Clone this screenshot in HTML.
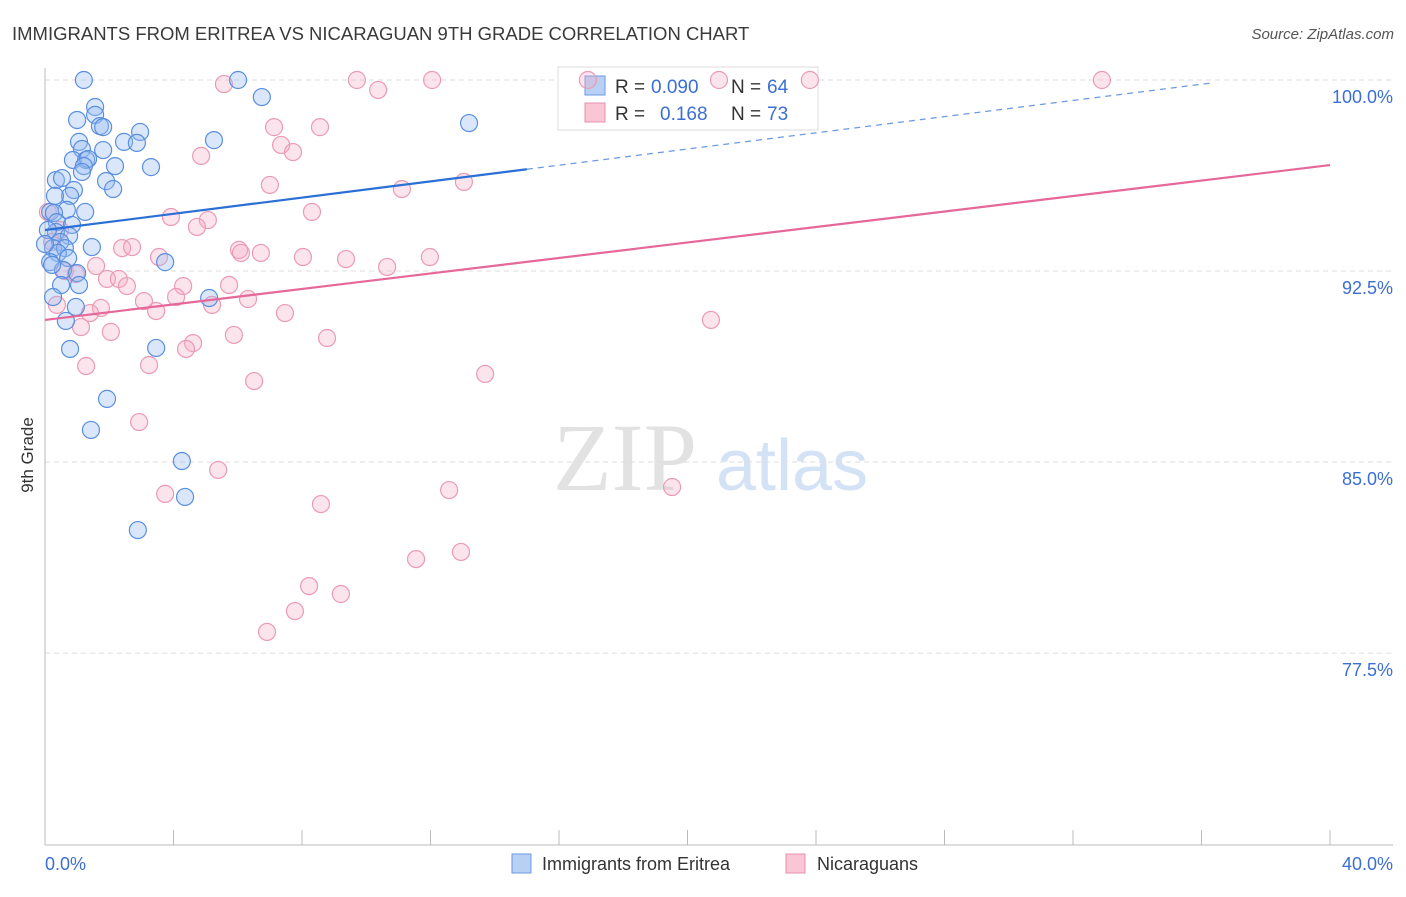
<!DOCTYPE html>
<html><head><meta charset="utf-8"><style>
body{margin:0;background:#fff;font-family:"Liberation Sans",sans-serif;}
svg text{font-family:"Liberation Sans",sans-serif;}
</style></head><body>
<svg id="chart" width="1406" height="892" xmlns="http://www.w3.org/2000/svg">
<text x="12" y="40" font-size="18.5" fill="#3a3a3a">IMMIGRANTS FROM ERITREA VS NICARAGUAN 9TH GRADE CORRELATION CHART</text>
<text x="1394" y="39" font-size="15" fill="#555" font-style="italic" text-anchor="end">Source: ZipAtlas.com</text>
<g>
<text x="553" y="490" font-size="96" fill="#e2e2e2" font-family="Liberation Serif" style="font-family:'Liberation Serif',serif">ZIP</text>
<text x="716" y="490" font-size="72" fill="#d4e2f5">atlas</text>
</g>
<g id="grid"></g>
<g id="axes"></g>
<g>
<rect x="558" y="67" width="260" height="63" fill="#fff" stroke="#ddd"/>
<rect x="585" y="76" width="20" height="19" fill="#b8d0f3" stroke="#6a9ae0"/>
<rect x="585" y="103" width="20" height="19" fill="#f9c6d6" stroke="#e88fac"/>
<text x="615" y="93" font-size="19" fill="#333">R =</text>
<text x="651" y="93" font-size="19" fill="#3b6fd4">0.090</text>
<text x="731" y="93" font-size="19" fill="#333">N =</text>
<text x="767" y="93" font-size="19" fill="#3b6fd4">64</text>
<text x="615" y="120" font-size="19" fill="#333">R =</text>
<text x="660" y="120" font-size="19" fill="#3b6fd4">0.168</text>
<text x="731" y="120" font-size="19" fill="#333">N =</text>
<text x="767" y="120" font-size="19" fill="#3b6fd4">73</text>
</g>
<g id="pts"></g>
<g id="trend"></g>
<text transform="translate(33,455) rotate(-90)" font-size="17" fill="#333" text-anchor="middle">9th Grade</text>
<g>
<rect x="512" y="854" width="19" height="19" fill="#b8d0f3" stroke="#6a9ae0"/>
<text x="542" y="870" font-size="18" fill="#333">Immigrants from Eritrea</text>
<rect x="786" y="854" width="19" height="19" fill="#f9c6d6" stroke="#e88fac"/>
<text x="817" y="870" font-size="18" fill="#333">Nicaraguans</text>
</g>
</svg>
<script>
const blueX=[1.21,6.01,1.56,6.75,1.00,1.56,1.71,1.81,2.96,2.46,2.86,5.26,13.20,1.06,1.15,1.81,0.87,1.28,1.34,1.21,2.18,3.30,1.15,0.34,0.53,1.90,2.12,0.90,0.78,0.31,0.16,0.68,1.25,0.28,0.37,0.84,0.34,0.75,0.47,0.25,0.62,1.46,0.40,0.72,0.16,3.74,0.56,1.00,0.50,1.06,0.25,5.11,0.96,0.65,0.78,3.46,1.93,1.43,4.26,4.36,2.89,0.09,0.22,0.0];
const blueY=[100,100,98.94,99.33,98.43,98.63,98.19,98.15,97.96,97.57,97.53,97.64,98.31,97.57,97.29,97.25,96.86,96.86,96.90,96.62,96.62,96.58,96.39,96.07,96.15,96.03,95.72,95.68,95.45,95.45,94.82,94.90,94.82,94.78,94.42,94.31,94.03,93.88,93.64,93.40,93.40,93.44,93.21,93.01,92.85,92.85,92.54,92.42,91.95,91.95,91.48,91.44,91.09,90.54,89.44,89.48,87.48,86.26,85.04,83.63,82.33,94.11,92.74,93.56];
const pinkX=[5.57,9.71,12.05,16.90,20.98,23.81,32.90,10.37,7.13,8.56,7.35,7.72,4.86,7.00,11.11,13.04,8.31,3.92,5.07,4.73,6.04,6.10,6.72,8.03,9.37,10.65,11.98,2.40,2.71,3.55,1.59,0.62,0.96,1.93,2.30,2.55,4.30,5.73,4.08,6.32,3.08,3.46,5.20,7.47,1.74,1.40,0.37,1.12,2.05,5.88,8.78,4.61,4.39,3.24,1.28,6.51,13.70,20.73,2.93,5.39,3.74,12.58,19.52,8.59,12.95,11.55,8.22,9.21,7.78,6.91,0.22,0.09,0.47];
const pinkY=[99.84,100,100,100,100,100,100,99.61,98.15,98.15,97.45,97.17,97.02,95.88,95.72,96.00,94.82,94.62,94.50,94.23,93.33,93.21,93.21,93.05,92.97,92.66,93.05,93.40,93.44,93.05,92.70,92.50,92.38,92.19,92.19,91.91,91.91,91.95,91.48,91.40,91.32,90.93,91.17,90.85,91.05,90.85,91.17,90.30,90.11,89.99,89.87,89.67,89.44,88.81,88.77,88.18,88.46,90.58,86.57,84.69,83.75,83.90,84.02,83.35,81.47,81.19,80.13,79.82,79.15,78.33,93.64,94.82,94.11];
const yTicks=[100,92.5,85,77.5];
const yTickLabels=["100.0%","92.5%","85.0%","77.5%"];
const xTicks=[0,4,8,12,16,20,24,28,32,36,40];
const blueTrend=[94.11,0.159,15,36.26];
const pinkTrend=[90.58,0.152,40];
const NS="http://www.w3.org/2000/svg";
const X=v=>45+v*32.125, Y=v=>80+(100-v)*25.47;
function mk(tag,attrs,parent){const e=document.createElementNS(NS,tag);for(const k in attrs)e.setAttribute(k,attrs[k]);document.getElementById(parent).appendChild(e);return e;}
yTicks.forEach((t,i)=>{
 const g=mk('line',{x1:45,x2:1393,y1:Y(t),y2:Y(t),stroke:'#ddd','stroke-dasharray':'5,4'},'grid');
 
 
 const l=mk('text',{x:1393,y:Y(t)+23,'font-size':18,fill:'#3b6fd4','text-anchor':'end'},'axes');
 l.textContent=yTickLabels[i];
 
 
});
let a=mk('line',{x1:45,x2:45,y1:68,y2:845,stroke:'#bbb'},'axes');


a=mk('line',{x1:45,x2:1393,y1:845,y2:845,stroke:'#bbb'},'axes');


xTicks.forEach(t=>{const e=mk('line',{x1:X(t),x2:X(t),y1:830,y2:845,stroke:'#bbb'},'axes');
 
 });
let xl=mk('text',{x:45,y:870,'font-size':18,fill:'#3b6fd4'},'axes');xl.textContent=xTicks[0].toFixed(1)+'%';


xl=mk('text',{x:1393,y:870,'font-size':18,fill:'#3b6fd4','text-anchor':'end'},'axes');xl.textContent=xTicks[xTicks.length-1].toFixed(1)+'%';


pinkX.forEach((x,i)=>{const c=mk('circle',{cx:X(x),cy:Y(pinkY[i]),r:8.5,fill:'rgba(246,170,195,0.32)',stroke:'#eb9ab5','stroke-width':1.2},'pts');
 
 });
blueX.forEach((x,i)=>{const c=mk('circle',{cx:X(x),cy:Y(blueY[i]),r:8.5,fill:'rgba(150,185,240,0.35)',stroke:'#5a8fe0','stroke-width':1.2},'pts');
 
 });
const bf=x=>blueTrend[0]+blueTrend[1]*x, pf=x=>pinkTrend[0]+pinkTrend[1]*x;
let t=mk('line',{x1:X(0),y1:Y(bf(0)),x2:X(blueTrend[2]),y2:Y(bf(blueTrend[2])),stroke:'#2a6fd6','stroke-width':2.2},'trend');


t=mk('line',{x1:X(blueTrend[2]),y1:Y(bf(blueTrend[2])),x2:X(blueTrend[3]),y2:Y(bf(blueTrend[3])),stroke:'#6a9ae0','stroke-width':1.2,'stroke-dasharray':'6,5'},'trend');


t=mk('line',{x1:X(0),y1:Y(pf(0)),x2:X(pinkTrend[2]),y2:Y(pf(pinkTrend[2])),stroke:'#e6679a','stroke-width':2.2},'trend');


</script>
</body></html>
